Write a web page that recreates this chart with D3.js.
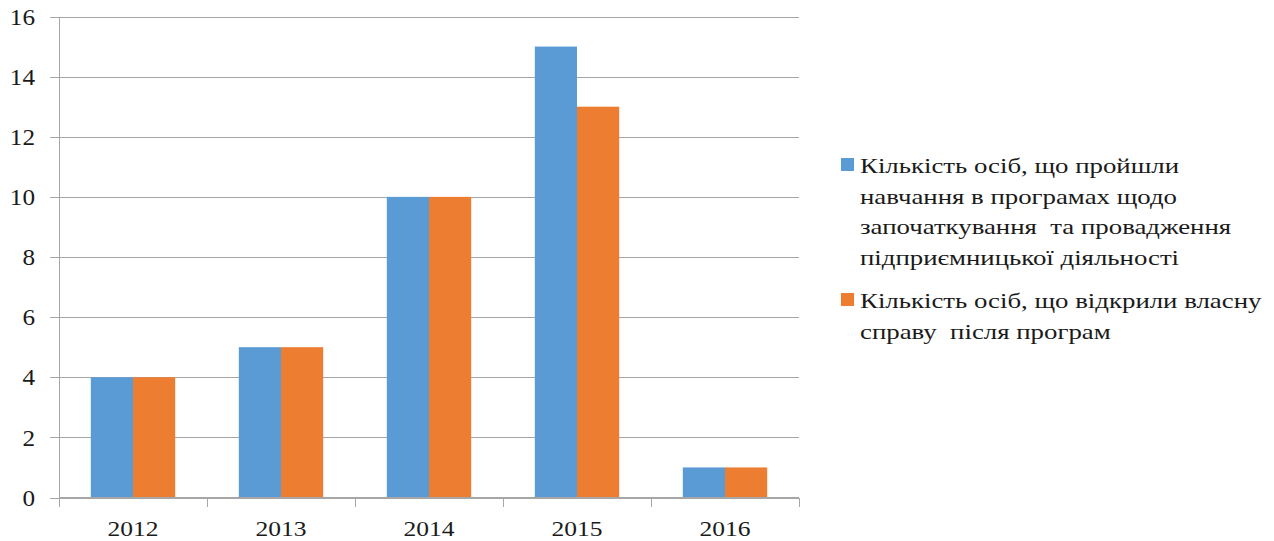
<!DOCTYPE html>
<html>
<head>
<meta charset="utf-8">
<script src="https://cdn.jsdelivr.net/npm/d3@7"></script>
<style>
  body { margin: 0; background: #fff; }
</style>
</head>
<body>
<svg id="chart" width="1274" height="541"></svg>
<script>
const years = ['2012', '2013', '2014', '2015', '2016']
const trained = [4, 5, 10, 15, 1]
const opened = [4, 5, 10, 13, 1]
const seriesNames = [
  ['Кількість осіб, що пройшли', 'навчання в програмах щодо', 'започаткування  та провадження', 'підприємницької діяльності'],
  ['Кількість осіб, що відкрили власну', 'справу  після програм']
]
const colors = ['#5B9BD5', '#ED7D31']
const yTicks = [0, 2, 4, 6, 8, 10, 12, 14, 16]

const plotLeft = 59, plotRight = 799, plotTop = 16.5, plotBottom = 497.5
const serif = "'Liberation Serif'"
const ink = '#1a1a1a'

let svg = d3.select('#chart')

let x0 = d3.scaleBand().domain(years).range([plotLeft, plotRight]).paddingInner(0).paddingOuter(0)
let x1 = d3.scaleBand().domain([0, 1]).range([0, x0.bandwidth()]).paddingInner(0).paddingOuter(0.754)
let y = d3.scaleLinear().domain([0, 16]).range([plotBottom, plotTop])

// gridlines + y labels
let yAxis = d3.axisLeft(y).tickValues(yTicks).tickSize(plotRight - 50).tickPadding(15)
let gy = svg.append('g').attr('transform', `translate(${plotRight},0)`).call(yAxis)
gy.attr('font-family', null).attr('font-size', null)
gy.select('.domain').remove()
gy.selectAll('line').attr('stroke', '#a6a6a6').attr('shape-rendering', 'crispEdges')
gy.selectAll('text')
  .attr('x', 0)
  .attr('transform', `translate(${-(plotRight - 35)},0) scale(1.05,1)`)
  .style('font-family', serif).style('font-size', '24px').attr('fill', ink)

// vertical axis line
svg.append('line')
  .attr('x1', plotLeft).attr('x2', plotLeft).attr('y1', plotTop).attr('y2', plotBottom)
  .attr('stroke', '#a6a6a6').attr('shape-rendering', 'crispEdges')

// bars
let data = years.map((yr, i) => [trained[i], opened[i]])
let groups = svg.append('g').selectAll('g').data(data).enter().append('g')
  .attr('transform', (d, i) => `translate(${x0(years[i])},0)`)
groups.selectAll('rect').data(d => d).enter().append('rect')
  .attr('x', (d, j) => x1(j))
  .attr('width', x1.bandwidth())
  .attr('y', d => y(d))
  .attr('height', d => y(0) - y(d))
  .attr('fill', (d, j) => colors[j])

// x axis
let xAxis = d3.axisBottom(x0).tickSize(0).tickPadding(23)
let gx = svg.append('g').attr('transform', `translate(0,${plotBottom})`).call(xAxis)
gx.attr('font-family', null).attr('font-size', null)
gx.select('.domain').remove()
gx.selectAll('text')
  .attr('transform', 'scale(1.16,1)')
  .style('font-family', serif).style('font-size', '22px').attr('fill', ink)

svg.append('line')
  .attr('x1', plotLeft).attr('x2', plotRight).attr('y1', plotBottom).attr('y2', plotBottom)
  .attr('stroke', '#a6a6a6').attr('shape-rendering', 'crispEdges')

let bounds = years.map(d => x0(d)).concat([plotRight])
svg.append('g').selectAll('line').data(bounds).enter().append('line')
  .attr('x1', d => d).attr('x2', d => d)
  .attr('y1', plotBottom).attr('y2', plotBottom + 9)
  .attr('stroke', '#a6a6a6').attr('shape-rendering', 'crispEdges')

// legend
let legendTops = [158, 293]
let legend = svg.append('g')
seriesNames.forEach((lines, i) => {
  legend.append('rect')
    .attr('x', 841).attr('y', legendTops[i])
    .attr('width', 13).attr('height', 13)
    .attr('fill', colors[i])
  let t = legend.append('text')
    .attr('transform', `translate(860,${legendTops[i] + 15}) scale(1.22,1)`)
    .style('font-family', serif).style('font-size', '22px').attr('fill', ink)
    .attr('xml:space', 'preserve')
  lines.forEach((ln, k) => {
    t.append('tspan').attr('x', 0).attr('dy', k === 0 ? 0 : 30.7).text(ln)
  })
})
</script>
</body>
</html>
